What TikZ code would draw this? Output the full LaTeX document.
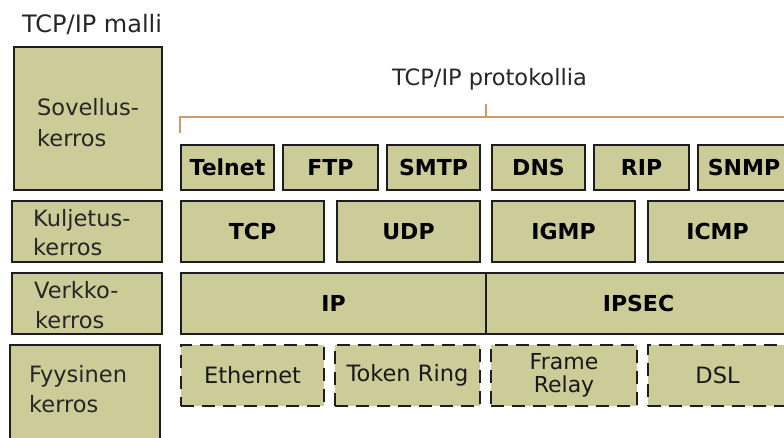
\documentclass[tikz,border=0pt]{standalone}
\usepackage{fontspec}
\setmainfont{DejaVu Sans}
\definecolor{layerfill}{HTML}{CCCC99}
\definecolor{edge}{HTML}{1E1E1E}
\definecolor{bracket}{HTML}{D49A66}
\tikzset{
  layer/.style={draw=edge, fill=layerfill, line width=1.6pt},
  proto/.style={layer, font=\fontsize{22}{26}\selectfont\bfseries, text=black},
  link/.style={layer, dash pattern=on 13pt off 8pt, font=\fontsize{22.5}{24}\selectfont, text=black!90, align=center},
  plain/.style={font=\fontsize{22.5}{26}\selectfont, text=black!85, inner sep=0pt},
}
\begin{document}
\begin{tikzpicture}[x=1pt, y=-1pt]
\useasboundingbox (0,0) rectangle (784,437);
\clip (0,0) rectangle (784,437);

% model column
\node[plain, anchor=base west, font=\fontsize{24}{26}\selectfont] (model) at (22,32) {TCP/IP malli};
\draw[layer] (14,47) rectangle (162,190);
\draw[layer] (12,201) rectangle (162,262);
\draw[layer] (12,273) rectangle (162,334);
\draw[layer] (10,345) rectangle (160,470);
\node[plain, anchor=base west] (sov1) at (37,115) {Sovellus-};
\node[plain, anchor=base west] (sov2) at (37,146) {kerros};
\node[plain, anchor=base west] (kul1) at (33,226) {Kuljetus-};
\node[plain, anchor=base west] (kul2) at (33,255) {kerros};
\node[plain, anchor=base west] (ver1) at (34,298) {Verkko-};
\node[plain, anchor=base west] (ver2) at (35,328) {kerros};
\node[plain, anchor=base west] (fyy1) at (29,382) {Fyysinen};
\node[plain, anchor=base west] (fyy2) at (29,412) {kerros};

% protocols heading and bracket
\node[plain, anchor=base west] (head) at (392,85) {TCP/IP protokollia};
\draw[bracket, line width=2pt] (180,133) -- (180,117) -- (800,117);
\draw[bracket, line width=2pt] (486,117) -- (486,104);

% application protocols
\node[proto, minimum width=93pt, minimum height=45pt] (telnet) at (227.5,167.5) {Telnet};
\node[proto, minimum width=95pt, minimum height=45pt] (ftp) at (330.5,167.5) {FTP};
\node[proto, minimum width=93pt, minimum height=45pt] (smtp) at (433.5,167.5) {SMTP};
\node[proto, minimum width=93pt, minimum height=45pt] (dns) at (538.5,167.5) {DNS};
\node[proto, minimum width=95pt, minimum height=45pt] (rip) at (641.5,167.5) {RIP};
\node[proto, minimum width=92pt, minimum height=45pt] (snmp) at (744,167.5) {SNMP};

% transport protocols
\node[proto, minimum width=143pt, minimum height=61pt] (tcp) at (252.5,231.5) {TCP};
\node[proto, minimum width=143pt, minimum height=61pt] (udp) at (408.5,231.5) {UDP};
\node[proto, minimum width=143pt, minimum height=61pt] (igmp) at (563.5,231.5) {IGMP};
\node[proto, minimum width=139pt, minimum height=61pt] (icmp) at (717.5,231.5) {ICMP};

% network protocols
\node[proto, minimum width=305pt, minimum height=61pt] (ip) at (333.5,303.5) {IP};
\node[proto, minimum width=305pt, minimum height=61pt] (ipsec) at (638.5,303.5) {IPSEC};

% link technologies
\node[link, minimum width=143pt, minimum height=61pt] (eth) at (252.5,375.5) {Ethernet};
\node[link, minimum width=145pt, minimum height=61pt] (tr) at (407.5,375.5) {Token Ring};
\node[link, minimum width=146pt, minimum height=61pt, font=\fontsize{22}{23}\selectfont] (fr) at (564,375.5) {Frame\\Relay};
\node[link, minimum width=139pt, minimum height=61pt] (dsl) at (717.5,375.5) {DSL};
\end{tikzpicture}
\end{document}
